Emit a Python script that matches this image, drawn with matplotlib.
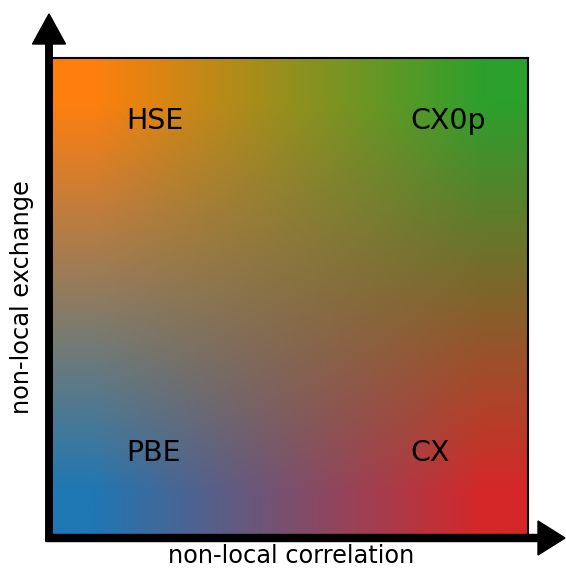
import numpy as np
import matplotlib
matplotlib.use("Agg")
import matplotlib.pyplot as plt
from matplotlib.patches import FancyArrow
from matplotlib.transforms import IdentityTransform
from matplotlib.colors import to_rgb

# Corner colours (top-left, top-right / bottom-left, bottom-right)
corner_top = ["#ff7f0e", "#2ca02c"]      # HSE, CX0p
corner_bottom = ["#1f77b4", "#d62728"]   # PBE, CX
labels = ["HSE", "CX0p", "PBE", "CX"]
label_x = [0.155, 0.752, 0.155, 0.752]
label_y = [0.85, 0.85, 0.153, 0.153]
xlabel = "non-local correlation"
ylabel = "non-local exchange"

W, H, DPI = 566, 569, 100
fig = plt.figure(figsize=(W / DPI, H / DPI), dpi=DPI)
ax = fig.add_axes([52 / W, (H - 534) / H, 476 / W, 476 / H])

img = np.array([[to_rgb(c) for c in corner_bottom],
                [to_rgb(c) for c in corner_top]])
ax.imshow(img, origin="lower", extent=(-0.32, 1.32, -0.32, 1.32),
          interpolation="bilinear", interpolation_stage="rgba", aspect="auto")
ax.set_xlim(0, 1)
ax.set_ylim(0, 1)
ax.set_xticks([])
ax.set_yticks([])
ax.spines["left"].set_visible(False)
ax.spines["bottom"].set_visible(False)
for s in ("top", "right"):
    ax.spines[s].set_linewidth(1.5)

for t, x, y in zip(labels, label_x, label_y):
    ax.text(x, y, t, fontsize=20.5, ha="left", va="baseline", color="black")

# Axis arrows in figure pixels
idt = IdentityTransform()
fig.add_artist(FancyArrow(49, H - 541, 0, (H - 14) - (H - 541), width=6.5,
                          head_width=33, head_length=30, length_includes_head=True,
                          color="black", transform=idt, clip_on=False))
fig.add_artist(FancyArrow(46, H - 538, 565 - 46, 0, width=7,
                          head_width=34, head_length=27, length_includes_head=True,
                          color="black", transform=idt, clip_on=False))

fig.text(291 / W, (H - 556) / H, xlabel, fontsize=17.3, ha="center", va="center")
fig.text(22 / W, (H - 297) / H, ylabel, fontsize=17.3, ha="center", va="center",
         rotation=90)

fig.savefig("out.png", dpi=DPI)
